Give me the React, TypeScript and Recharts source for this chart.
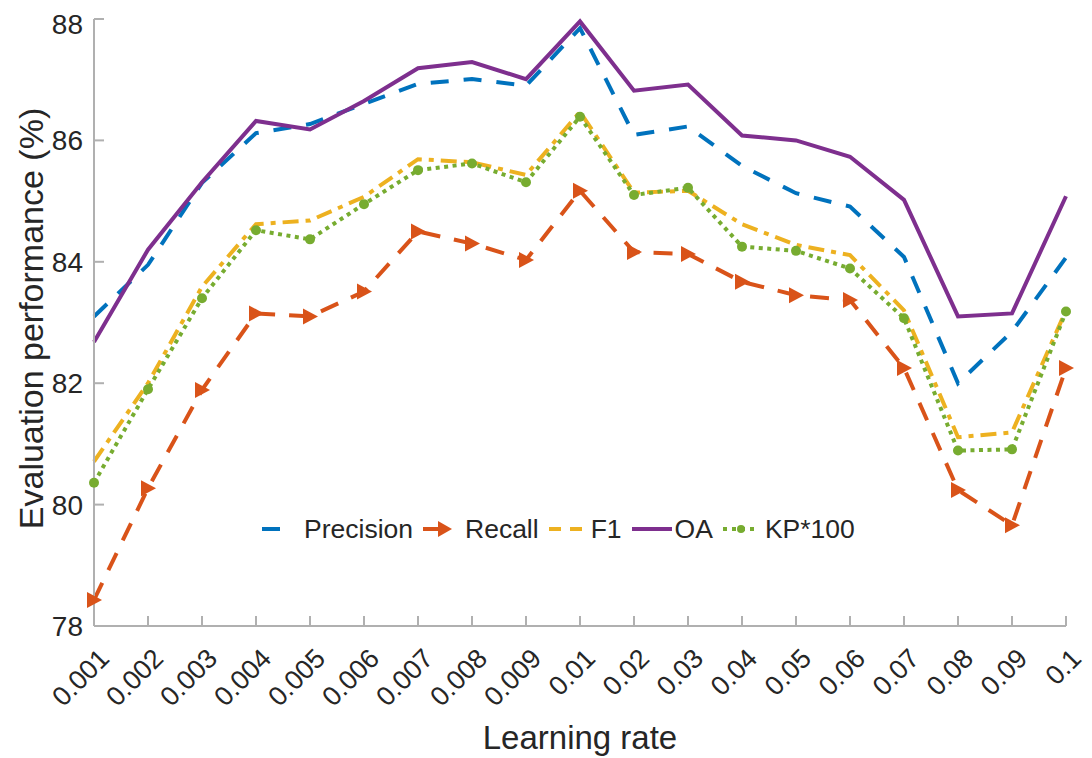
import { LineChart, Line, XAxis, YAxis, Legend, Label } from 'recharts';

const learningRates = [
  '0.001', '0.002', '0.003', '0.004', '0.005', '0.006', '0.007', '0.008', '0.009',
  '0.01', '0.02', '0.03', '0.04', '0.05', '0.06', '0.07', '0.08', '0.09', '0.1',
];
const precision = [83.1, 83.95, 85.3, 86.12, 86.27, 86.6, 86.93, 87.01, 86.9, 87.85, 86.09, 86.23, 85.58, 85.13, 84.91, 84.08, 82.0, 82.85, 84.07];
const recall = [78.43, 80.27, 81.89, 83.15, 83.1, 83.51, 84.5, 84.3, 84.03, 85.17, 84.16, 84.13, 83.67, 83.45, 83.37, 82.25, 80.24, 79.66, 82.25];
const f1 = [80.71, 82.0, 83.59, 84.62, 84.68, 85.07, 85.69, 85.64, 85.43, 86.47, 85.14, 85.17, 84.62, 84.28, 84.11, 83.2, 81.11, 81.19, 83.2];
const oa = [82.68, 84.2, 85.31, 86.32, 86.18, 86.65, 87.19, 87.29, 87.01, 87.96, 86.82, 86.92, 86.08, 86.0, 85.73, 85.02, 83.1, 83.15, 85.08];
const kp100 = [80.36, 81.9, 83.4, 84.52, 84.37, 84.95, 85.51, 85.62, 85.31, 86.39, 85.1, 85.22, 84.25, 84.18, 83.89, 83.07, 80.89, 80.91, 83.18];
const yTicks = [78, 80, 82, 84, 86, 88];
const legendOrder = ['precision', 'recall', 'f1', 'oa', 'kp'];

const data = learningRates.map((lr, i) => ({
  lr,
  precision: precision[i],
  recall: recall[i],
  f1: f1[i],
  oa: oa[i],
  kp: kp100[i],
}));

const FONT = '"Liberation Sans", Arial, Helvetica, sans-serif';
const TEXT = '#262626';
const AXIS = '#b0b0b0';

const COLORS = {
  precision: '#0072BD',
  recall: '#D95319',
  f1: '#EDB120',
  oa: '#7E2F8E',
  kp: '#77AC30',
};

function TriangleDot(props: any) {
  const { cx, cy, index } = props;
  if (cx == null || cy == null) return <g key={`t-${index}`} />;
  return (
    <path
      key={`t-${index}`}
      d={`M${cx - 7},${cy - 8} L${cx + 8},${cy} L${cx - 7},${cy + 8} Z`}
      fill={COLORS.recall}
      stroke="none"
    />
  );
}

function RotatedTick(props: any) {
  const { x, y, payload } = props;
  const ax = x + 17;
  return (
    <text
      x={ax}
      y={y}
      transform={`rotate(-45 ${ax} ${y})`}
      textAnchor="end"
      fill={TEXT}
      fontSize={27}
      fontFamily={FONT}
    >
      {payload.value}
    </text>
  );
}

function LegendSample({ dataKey }: { dataKey: string }) {
  const c = (COLORS as any)[dataKey];
  let body = null;
  if (dataKey === 'precision') {
    body = <line x1={0} y1={14} x2={18} y2={14} stroke={c} strokeWidth={4} />;
  } else if (dataKey === 'recall') {
    body = (
      <g>
        <line x1={0} y1={14} x2={18} y2={14} stroke={c} strokeWidth={4} />
        <path d="M15,6 L29,14 L15,22 Z" fill={c} />
      </g>
    );
  } else if (dataKey === 'f1') {
    body = <line x1={0} y1={14} x2={33} y2={14} stroke={c} strokeWidth={4} strokeDasharray="12 9" />;
  } else if (dataKey === 'oa') {
    body = <line x1={0} y1={14} x2={40} y2={14} stroke={c} strokeWidth={4} />;
  } else {
    body = (
      <g>
        <line x1={0} y1={14} x2={36} y2={14} stroke={c} strokeWidth={4} strokeDasharray="4 5" />
        <circle cx={18} cy={14} r={4} fill={c} />
      </g>
    );
  }
  return (
    <svg width={dataKey === 'oa' ? 40 : 36} height={28} style={{ display: 'block' }}>
      {body}
    </svg>
  );
}

function renderLegend(props: any) {
  const payload = [...(props.payload || [])].sort(
    (a: any, b: any) => legendOrder.indexOf(a.dataKey) - legendOrder.indexOf(b.dataKey),
  );
  return (
    <div style={{ display: 'flex', alignItems: 'center', fontFamily: FONT, fontSize: 26.5, color: TEXT, whiteSpace: 'nowrap' }}>
      {payload.map((entry: any) => (
        <div key={entry.dataKey} style={{ display: 'flex', alignItems: 'center', marginRight: 10 }}>
          <LegendSample dataKey={entry.dataKey} />
          <span style={{ marginLeft: entry.dataKey === 'oa' ? 3 : 6, lineHeight: '28px' }}>{entry.value}</span>
        </div>
      ))}
    </div>
  );
}

export default function App() {
  return (
    <div style={{ width: 1084, height: 750, background: '#fff' }}>
      <LineChart width={1084} height={750} data={data} margin={{ top: 11, right: 26, bottom: 0, left: 0 }}>
        <XAxis
          dataKey="lr"
          type="category"
          height={132}
          interval={0}
          padding={{ left: 0, right: 0 }}
          stroke={AXIS}
          strokeWidth={2}
          tickSize={-10}
          tickMargin={44}
          tick={<RotatedTick />}
        >
          <Label
            content={(p: any) => {
              const vb = p.viewBox || {};
              const cx = vb.x + vb.width / 2;
              return (
                <text x={cx} y={741} textAnchor="middle" fill={TEXT} fontSize={33} fontFamily={FONT}>
                  Learning rate
                </text>
              );
            }}
          />
        </XAxis>
        <XAxis
          xAxisId="top"
          dataKey="lr"
          type="category"
          orientation="top"
          height={0}
          interval={0}
          padding={{ left: 0, right: 0 }}
          stroke={AXIS}
          strokeWidth={2}
          tickSize={-10}
          tick={() => <g />}
        />
        <YAxis
          domain={[78, 88]}
          ticks={yTicks}
          width={86}
          stroke={AXIS}
          strokeWidth={2}
          tickSize={-10}
          tickMargin={21}
          tick={{ fill: TEXT, fontSize: 28, fontFamily: FONT }}
        >
          <Label
            content={(p: any) => {
              const vb = p.viewBox || {};
              const cy = vb.y + vb.height / 2 - 4;
              return (
                <text
                  x={35}
                  y={cy}
                  transform={`rotate(-90 35 ${cy})`}
                  textAnchor="middle"
                  fill={TEXT}
                  fontSize={34}
                  fontFamily={FONT}
                >
                  Evaluation performance (%)
                </text>
              );
            }}
          />
        </YAxis>
        <YAxis
          yAxisId="right"
          orientation="right"
          domain={[78, 88]}
          ticks={yTicks}
          width={0}
          stroke={AXIS}
          strokeWidth={2}
          tickSize={-10}
          tick={() => <g />}
        />
        <Legend
          content={renderLegend}
          itemSorter={null as any}
          wrapperStyle={{ position: 'absolute', left: 254, top: 507, width: 'auto', height: 0, overflow: 'visible' }}
        />
        <Line
          dataKey="precision"
          name="Precision"
          stroke={COLORS.precision}
          strokeWidth={4}
          strokeDasharray="18 15"
          dot={false}
          activeDot={false}
          isAnimationActive={false}
        />
        <Line
          dataKey="recall"
          name="Recall"
          stroke={COLORS.recall}
          strokeWidth={4}
          strokeDasharray="19 14"
          dot={(p: any) => <TriangleDot {...p} key={`t-${p.index}`} />}
          activeDot={false}
          isAnimationActive={false}
        />
        <Line
          dataKey="f1"
          name="F1"
          stroke={COLORS.f1}
          strokeWidth={4}
          strokeDasharray="16 7 5 7"
          dot={false}
          activeDot={false}
          isAnimationActive={false}
        />
        <Line
          dataKey="oa"
          name="OA"
          stroke={COLORS.oa}
          strokeWidth={4}
          dot={false}
          activeDot={false}
          isAnimationActive={false}
        />
        <Line
          dataKey="kp"
          name="KP*100"
          stroke={COLORS.kp}
          strokeWidth={4}
          strokeDasharray="4 4.5"
          dot={{ r: 5, fill: COLORS.kp, stroke: 'none', strokeDasharray: '' }}
          activeDot={false}
          isAnimationActive={false}
        />
      </LineChart>
    </div>
  );
}
